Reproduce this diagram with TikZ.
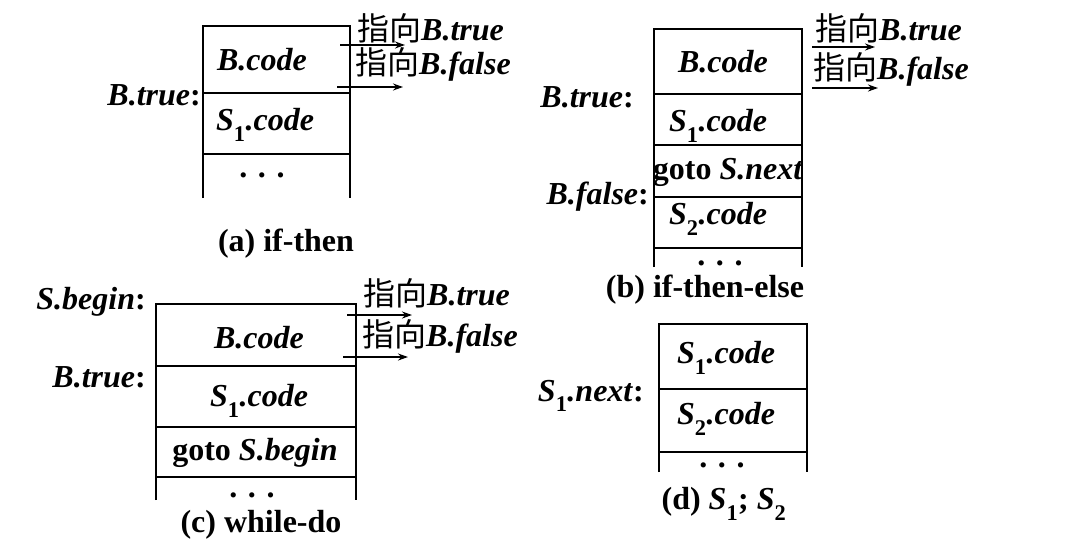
\documentclass[tikz,border=0pt]{standalone}
\usepackage{fontspec}
\setmainfont{Liberation Serif}
\newfontfamily\cjk{Noto Sans CJK SC}
\usetikzlibrary{arrows.meta}

\newcommand{\subidx}[1]{\raisebox{-0.3ex}{\textsubscript{\upshape #1}}}
\newcommand{\goto}[1]{{\cjk\mdseries 指向}\textit{#1}}

\tikzset{
  every node/.style={font=\fontsize{32}{37}\selectfont\bfseries, inner sep=0pt},
  frame/.style={line width=2.4pt},
  jump/.style={-{Stealth[length=10pt,width=7pt]}, line width=1.6pt},
}

\begin{document}
\begin{tikzpicture}[x=1pt,y=-1pt]
\useasboundingbox (0,0) rectangle (1065,558);

% (a) if-then
\draw[frame] (203,198) -- (203,26) -- (350,26) -- (350,198);
\draw[frame] (203,93) -- (350,93) (203,154) -- (350,154);
\node (a-bcode) at (262,60) {\textit{B.code}};
\node (a-scode) at (265,125) {\textit{S}\subidx{1}\textit{.code}};
\node (a-dots) at (262,175) {. . .};
\node[anchor=east] (a-btrue) at (201,95) {\textit{B.true}:};
\node (a-cap) at (286,244) {(a) if-then};
\node[anchor=west] (a-lt) at (357,28) {\goto{B.true}};
\node[anchor=west] (a-lf) at (355,64) {\goto{B.false}};
\coordinate (a-t0) at (340,45); \coordinate (a-t1) at (405,45);
\coordinate (a-f0) at (337,87); \coordinate (a-f1) at (403,87);
\draw[jump] (a-t0) -- (a-t1);
\draw[jump] (a-f0) -- (a-f1);

% (b) if-then-else
\draw[frame] (654,267) -- (654,29) -- (802,29) -- (802,267);
\draw[frame] (654,94) -- (802,94) (654,145) -- (802,145)
  (654,197) -- (802,197) (654,248) -- (802,248);
\node (b-bcode) at (723,62) {\textit{B.code}};
\node (b-s1code) at (718,126) {\textit{S}\subidx{1}\textit{.code}};
\node (b-goto) at (728,172) {goto \textit{S.next}};
\node (b-s2code) at (718,219) {\textit{S}\subidx{2}\textit{.code}};
\node (b-dots) at (720,263) {. . .};
\node[anchor=east] (b-btrue) at (634,97) {\textit{B.true}:};
\node[anchor=east] (b-bfalse) at (649,197) {\textit{B.false}:};
\node (b-cap) at (705,290) {(b) if-then-else};
\node[anchor=west] (b-lt) at (815,28) {\goto{B.true}};
\node[anchor=west] (b-lf) at (813,69) {\goto{B.false}};
\coordinate (b-t0) at (812,47); \coordinate (b-t1) at (875,47);
\coordinate (b-f0) at (812,88); \coordinate (b-f1) at (878,88);
\draw[jump] (b-t0) -- (b-t1);
\draw[jump] (b-f0) -- (b-f1);

% (c) while-do
\draw[frame] (156,500) -- (156,304) -- (356,304) -- (356,500);
\draw[frame] (156,366) -- (356,366) (156,427) -- (356,427) (156,477) -- (356,477);
\node (c-bcode) at (259,338) {\textit{B.code}};
\node (c-scode) at (259,401) {\textit{S}\subidx{1}\textit{.code}};
\node (c-goto) at (255,453) {goto \textit{S.begin}};
\node (c-dots) at (252,495) {. . .};
\node[anchor=east] (c-begin) at (146,302) {\textit{S.begin}:};
\node[anchor=east] (c-btrue) at (146,377) {\textit{B.true}:};
\node (c-cap) at (261,525) {(c) while-do};
\node[anchor=west] (c-lt) at (363,293) {\goto{B.true}};
\node[anchor=west] (c-lf) at (362,336) {\goto{B.false}};
\coordinate (c-t0) at (347,315); \coordinate (c-t1) at (412,315);
\coordinate (c-f0) at (343,357); \coordinate (c-f1) at (408,357);
\draw[jump] (c-t0) -- (c-t1);
\draw[jump] (c-f0) -- (c-f1);

% (d) S1; S2
\draw[frame] (659,472) -- (659,324) -- (807,324) -- (807,472);
\draw[frame] (659,389) -- (807,389) (659,452) -- (807,452);
\node (d-s1code) at (726,358) {\textit{S}\subidx{1}\textit{.code}};
\node (d-s2code) at (726,419) {\textit{S}\subidx{2}\textit{.code}};
\node (d-dots) at (722,465) {. . .};
\node[anchor=east] (d-next) at (644,396) {\textit{S}\subidx{1}\textit{.next}:};
\node (d-cap) at (724,504) {(d) \textit{S}\subidx{1}; \textit{S}\subidx{2}};
\end{tikzpicture}
\end{document}
